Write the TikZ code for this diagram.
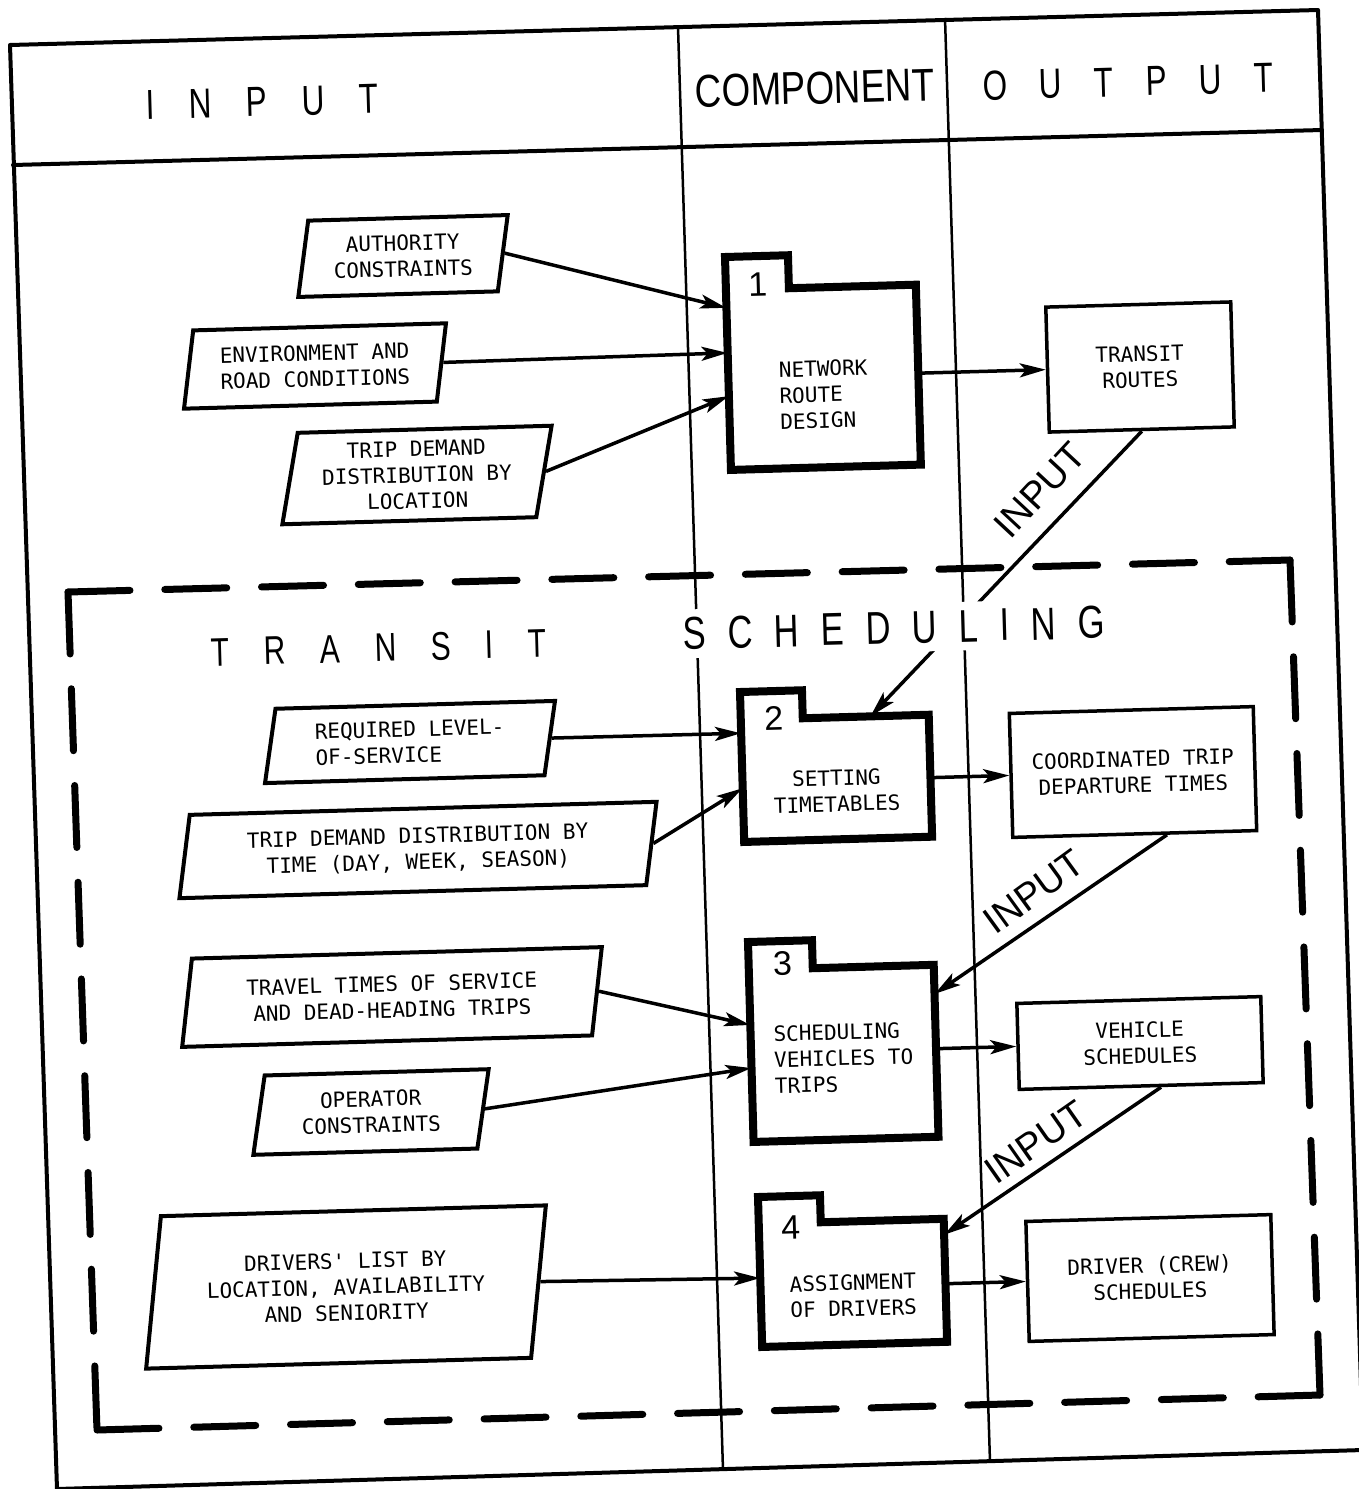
\documentclass[tikz,border=0pt]{standalone}
\usepackage{fontspec}
\setmainfont{Liberation Sans}
\newfontfamily\labelfont{DejaVu Sans Mono}
\usetikzlibrary{arrows.meta,shapes.geometric,calc}

\begin{document}
\begin{tikzpicture}[x=1pt,y=-1pt,
  every node/.style={inner sep=0pt},
  frameline/.style={line width=4pt, line cap=round, line join=round},
  divline/.style={line width=2.5pt},
  dashline/.style={line width=7pt, line cap=round, dash pattern=on 62pt off 34.8pt},
  boxlbl/.style={font=\labelfont\fontsize{21}{26}\selectfont, align=center},
  inbox/.style={trapezium, trapezium left angle=78, trapezium right angle=102,
    trapezium stretches=true, draw, line width=4pt, rotate=1.6, boxlbl},
  outbox/.style={rectangle, draw, line width=3.5pt, rotate=1.6, boxlbl},
  compbody/.style={rectangle, transform shape, boxlbl},
  compline/.style={line width=8pt, line join=miter},
  compnum/.style={transform shape, font=\fontsize{34}{34}\selectfont},
  flow/.style={line width=3.5pt, -{Stealth[length=26pt,width=14pt,inset=6pt]}},
  colhead/.style={rotate=1.6, font=\fontsize{42}{42}\selectfont},
  bandtitle/.style={rotate=1.6, fill=white, inner sep=8pt},
  inlbl/.style={font=\fontsize{38}{38}\selectfont}
]
\useasboundingbox (0,0) rectangle (1359,1489);

% outer frame, header rule and column dividers
\coordinate (fTL) at (10,45);
\coordinate (fTR) at (1318,10);
\coordinate (fBR) at (1363,1450);
\coordinate (fBL) at (57,1489);
\draw[frameline] (fTL) -- (fTR) -- (fBR) -- (fBL) -- cycle;
\draw[frameline] (13,165) -- (1322,130);
\draw[divline] (678,27) -- (723,1470);
\draw[divline] (945,18) -- (990,1462);

% dashed boundary of the scheduling part (each side starts and ends on a dash)
\coordinate (dTL) at (68,592);
\coordinate (dTR) at (1290,560);
\coordinate (dBR) at (1320,1395);
\coordinate (dBL) at (97,1430);
\draw[dashline] (dTL) -- (dTR);
\draw[dashline] (dTR) -- (dBR);
\draw[dashline] (dBL) -- (dBR);
\draw[dashline] (dTL) -- (dBL);

% column headings
\node[colhead, xscale=0.75] (hin) at (262,102) {I\hspace{46pt}N\hspace{46pt}P\hspace{46pt}U\hspace{46pt}T};
\node[colhead, xscale=0.8, font=\fontsize{46}{46}\selectfont] (hcomp) at (815,88) {COMPONENT};
\node[colhead, xscale=0.75] (hout) at (1128,82) {O\hspace{43pt}U\hspace{43pt}T\hspace{43pt}P\hspace{43pt}U\hspace{43pt}T};

% input data (parallelograms)
\node[inbox, minimum width=212pt, minimum height=76pt] (p1) at (403,256) {AUTHORITY\\CONSTRAINTS};
\node[inbox, minimum width=265pt, minimum height=78pt] (p2) at (315,366) {ENVIRONMENT AND\\ROAD CONDITIONS};
\node[inbox, minimum width=272pt, minimum height=91pt] (p3) at (417,475) {TRIP DEMAND\\DISTRIBUTION BY\\LOCATION};
\node[inbox, minimum width=293pt, minimum height=74pt, align=left] (p4) at (410,742) {REQUIRED LEVEL-\\OF-SERVICE};
\node[inbox, minimum width=482pt, minimum height=83pt] (p5) at (418,850) {TRIP DEMAND DISTRIBUTION BY\\TIME (DAY, WEEK, SEASON)};
\node[inbox, minimum width=423pt, minimum height=88pt] (p6) at (392,997) {TRAVEL TIMES OF SERVICE\\AND DEAD-HEADING TRIPS};
\node[inbox, minimum width=238pt, minimum height=79pt] (p7) at (371,1112) {OPERATOR\\CONSTRAINTS};
\node[inbox, minimum width=405pt, minimum height=152pt] (p8) at (346,1287) {DRIVERS' LIST BY\\LOCATION, AVAILABILITY\\AND SENIORITY};

% components (boxes with a numbered tab); the struts push the text towards the lower part
\begin{scope}[shift={(725,257)}, rotate=1.6]
  \draw[compline] (0,33) -- (0,0) -- (63,0) -- (63,33) -- (190,33) -- (190,213) -- (0,213) -- cycle;
  \node[compbody, minimum width=190pt, minimum height=180pt, align=left] (c1) at (95,123) {\rule{0pt}{50pt}NETWORK\\ROUTE\\DESIGN};
  \node[compnum] (n1) at (32,28) {1};
\end{scope}
\begin{scope}[shift={(740,692)}, rotate=1.6]
  \draw[compline] (0,28) -- (0,0) -- (62,0) -- (62,28) -- (188,28) -- (188,150) -- (0,150) -- cycle;
  \node[compbody, minimum width=188pt, minimum height=122pt] (c2) at (94,89) {\rule{0pt}{41pt}SETTING\\TIMETABLES};
  \node[compnum] (n2) at (33,27) {2};
\end{scope}
\begin{scope}[shift={(748,942)}, rotate=1.6]
  \draw[compline] (0,28) -- (0,0) -- (64,0) -- (64,28) -- (185,28) -- (185,200) -- (0,200) -- cycle;
  \node[compbody, minimum width=185pt, minimum height=172pt, align=left] (c3) at (92.5,114) {\rule{0pt}{25pt}SCHEDULING\\VEHICLES TO\\TRIPS};
  \node[compnum] (n3) at (34,22) {3};
\end{scope}
\begin{scope}[shift={(758,1197)}, rotate=1.6]
  \draw[compline] (0,27) -- (0,0) -- (62,0) -- (62,27) -- (185,27) -- (185,150) -- (0,150) -- cycle;
  \node[compbody, minimum width=185pt, minimum height=123pt] (c4) at (92.5,88.5) {\rule{0pt}{41pt}ASSIGNMENT\\OF DRIVERS};
  \node[compnum] (n4) at (32,31) {4};
\end{scope}

% outputs
\node[outbox, minimum width=185pt, minimum height=125pt] (r1) at (1140,367) {TRANSIT\\ROUTES};
\node[outbox, minimum width=244pt, minimum height=124pt] (r2) at (1133,772) {COORDINATED TRIP\\DEPARTURE TIMES};
\node[outbox, minimum width=244pt, minimum height=86pt] (r3) at (1140,1043) {VEHICLE\\SCHEDULES};
\node[outbox, minimum width=245pt, minimum height=120pt] (r4) at (1150,1278) {DRIVER (CREW)\\SCHEDULES};

% inputs into components
\draw[flow] (p1.east) -- ($(c1.north west)!0.10!(c1.south west)$);
\draw[flow] (p2.east) -- ($(c1.north west)!0.35!(c1.south west)$);
\draw[flow] (p3.east) -- ($(c1.north west)!0.59!(c1.south west)$);
\draw[flow] (p4.east) -- ($(c2.north west)!0.11!(c2.south west)$);
\draw[flow] (p5.east) -- ($(c2.north west)!0.56!(c2.south west)$);
\draw[flow] (p6.east) -- ($(c3.north west)!0.32!(c3.south west)$);
\draw[flow] (p7.east) -- ($(c3.north west)!0.57!(c3.south west)$);
\draw[flow] (p8.east) -- ($(c4.north west)!0.44!(c4.south west)$);

% components to outputs
\draw[flow] ($(c1.north east)!(r1.west)!(c1.south east)$) -- (r1.west);
\draw[flow] ($(c2.north east)!(r2.west)!(c2.south east)$) -- (r2.west);
\draw[flow] ($(c3.north east)!(r3.west)!(c3.south east)$) -- (r3.west);
\draw[flow] ($(c4.north east)!(r4.west)!(c4.south east)$) -- (r4.west);

% outputs fed back as inputs
\draw[flow] (r1.south) -- ($(c2.north west)!0.69!(c2.north east)$);
\draw[flow] ($(r2.south west)!0.63!(r2.south east)$) -- ($(c3.north east)!0.17!(c3.south east)$);
\draw[flow] ($(r3.south west)!0.58!(r3.south east)$) -- ($(c4.north east)!0.13!(c4.south east)$);
\node[inlbl, rotate=47] (i1) at (1040,490) {INPUT};
\node[inlbl, rotate=36] (i2) at (1034,892) {INPUT};
\node[inlbl, rotate=35] (i3) at (1036,1142) {INPUT};

% title of the scheduling part
\node[bandtitle, xscale=0.75, font=\fontsize{40}{40}\selectfont] (t1) at (379,648) {T\hspace{46pt}R\hspace{46pt}A\hspace{46pt}N\hspace{46pt}S\hspace{46pt}I\hspace{46pt}T};
\node[bandtitle, xscale=0.75, font=\fontsize{46}{46}\selectfont] (t2) at (894,628) {S\hspace{29pt}C\hspace{29pt}H\hspace{29pt}E\hspace{29pt}D\hspace{29pt}U\hspace{29pt}L\hspace{29pt}I\hspace{29pt}N\hspace{29pt}G};
\end{tikzpicture}
\end{document}
